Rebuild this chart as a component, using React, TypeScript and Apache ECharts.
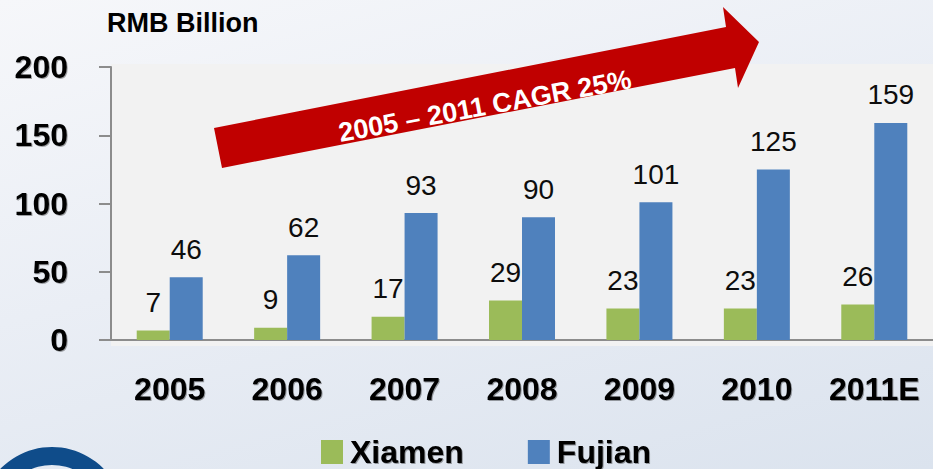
import React, { useEffect, useRef } from "react";
import * as echarts from "echarts";

const categories = ["2005", "2006", "2007", "2008", "2009", "2010", "2011E"];
const xiamen = [7, 9, 17, 29, 23, 23, 26];
const fujian = [46, 62, 93, 90, 101, 125, 159];
const yMin = 0;
const yMax = 200;
const yInterval = 50;
const unitLabel = "RMB Billion";
const arrowLabel = "2005 – 2011 CAGR 25%";

const FONT = "'Liberation Sans', Arial, sans-serif";

export default function App() {
  const ref = useRef<HTMLDivElement>(null);
  useEffect(() => {
    if (!ref.current) return;
    const chart = echarts.init(ref.current, undefined, { renderer: "svg" });
    const shadow = {
      textShadowColor: "rgba(0,0,0,0.35)",
      textShadowOffsetX: 1,
      textShadowOffsetY: 1,
      textShadowBlur: 1,
    };
    chart.setOption({
      animation: false,
      backgroundColor: "transparent",
      textStyle: { fontFamily: FONT },
      grid: { left: 111, right: 0, top: 67, bottom: 129, containLabel: false },
      xAxis: {
        type: "category",
        data: categories,
        axisLine: { lineStyle: { color: "#8c8c8c", width: 2 } },
        axisTick: { show: false },
        axisLabel: {
          interval: 0,
          margin: 33,
          fontSize: 32,
          fontWeight: "bold",
          color: "#000",
          fontFamily: FONT,
          ...shadow,
        },
      },
      yAxis: {
        type: "value",
        min: yMin,
        max: yMax,
        interval: yInterval,
        splitLine: { show: false },
        axisLine: { show: true, lineStyle: { color: "#8c8c8c", width: 2 } },
        axisTick: { show: true, length: 12, lineStyle: { color: "#8c8c8c", width: 2 } },
        axisLabel: {
          margin: 43,
          fontSize: 32,
          fontWeight: "bold",
          color: "#000",
          fontFamily: FONT,
          ...shadow,
        },
      },
      legend: {
        left: 321,
        top: 436,
        padding: 0,
        itemWidth: 22,
        itemHeight: 24,
        itemGap: 64,
        icon: "rect",
        textStyle: {
          fontSize: 32,
          fontWeight: "bold",
          color: "#000",
          fontFamily: FONT,
          padding: [0, 0, 0, 2],
          ...shadow,
        },
        data: ["Xiamen", "Fujian"],
      },
      series: [
        {
          name: "Xiamen",
          type: "bar",
          data: xiamen,
          barWidth: 33,
          barGap: "0%",
          itemStyle: { color: "#9bbb59" },
          label: {
            show: true,
            position: "top",
            distance: 14,
            fontSize: 28,
            color: "#0d0d0d",
            fontFamily: FONT,
          },
        },
        {
          name: "Fujian",
          type: "bar",
          data: fujian,
          barWidth: 33,
          barGap: "0%",
          itemStyle: { color: "#4f81bd" },
          label: {
            show: true,
            position: "top",
            distance: 14,
            fontSize: 28,
            color: "#0d0d0d",
            fontFamily: FONT,
          },
        },
      ],
      graphic: [
        {
          type: "rect",
          z: -10,
          silent: true,
          shape: { x: 111, y: 64, width: 822, height: 282 },
          style: { fill: "#f2f2f2" },
        },
        {
          type: "text",
          left: 107,
          top: 9,
          style: {
            text: unitLabel,
            fontSize: 27,
            fontWeight: "bold",
            fill: "#000",
            fontFamily: FONT,
          },
        },
        {
          type: "polygon",
          z: 100,
          shape: {
            points: [
              [214, 128],
              [726, 27],
              [723, 7],
              [759, 42],
              [738, 88],
              [735, 68],
              [222, 168],
            ],
          },
          style: { fill: "#c00000" },
        },
        {
          type: "text",
          z: 101,
          x: 485,
          y: 106,
          rotation: (10.5 * Math.PI) / 180,
          style: {
            text: arrowLabel,
            fontSize: 27,
            fontWeight: "bold",
            fill: "#fff",
            fontFamily: FONT,
            align: "center",
            verticalAlign: "middle",
          },
        },
        {
          type: "ring",
          shape: { cx: 52, cy: 519, r: 72, r0: 54 },
          style: { fill: "#0f4c8a" },
        },
      ],
    });
    return () => chart.dispose();
  }, []);
  return (
    <div
      style={{
        position: "fixed",
        left: 0,
        top: 0,
        width: 933,
        height: 469,
        background: "linear-gradient(165deg, #f6f7fa 0%, #eaeef5 45%, #dbe3ee 100%)",
      }}
    >
      <div ref={ref} style={{ width: 933, height: 469 }} />
    </div>
  );
}
